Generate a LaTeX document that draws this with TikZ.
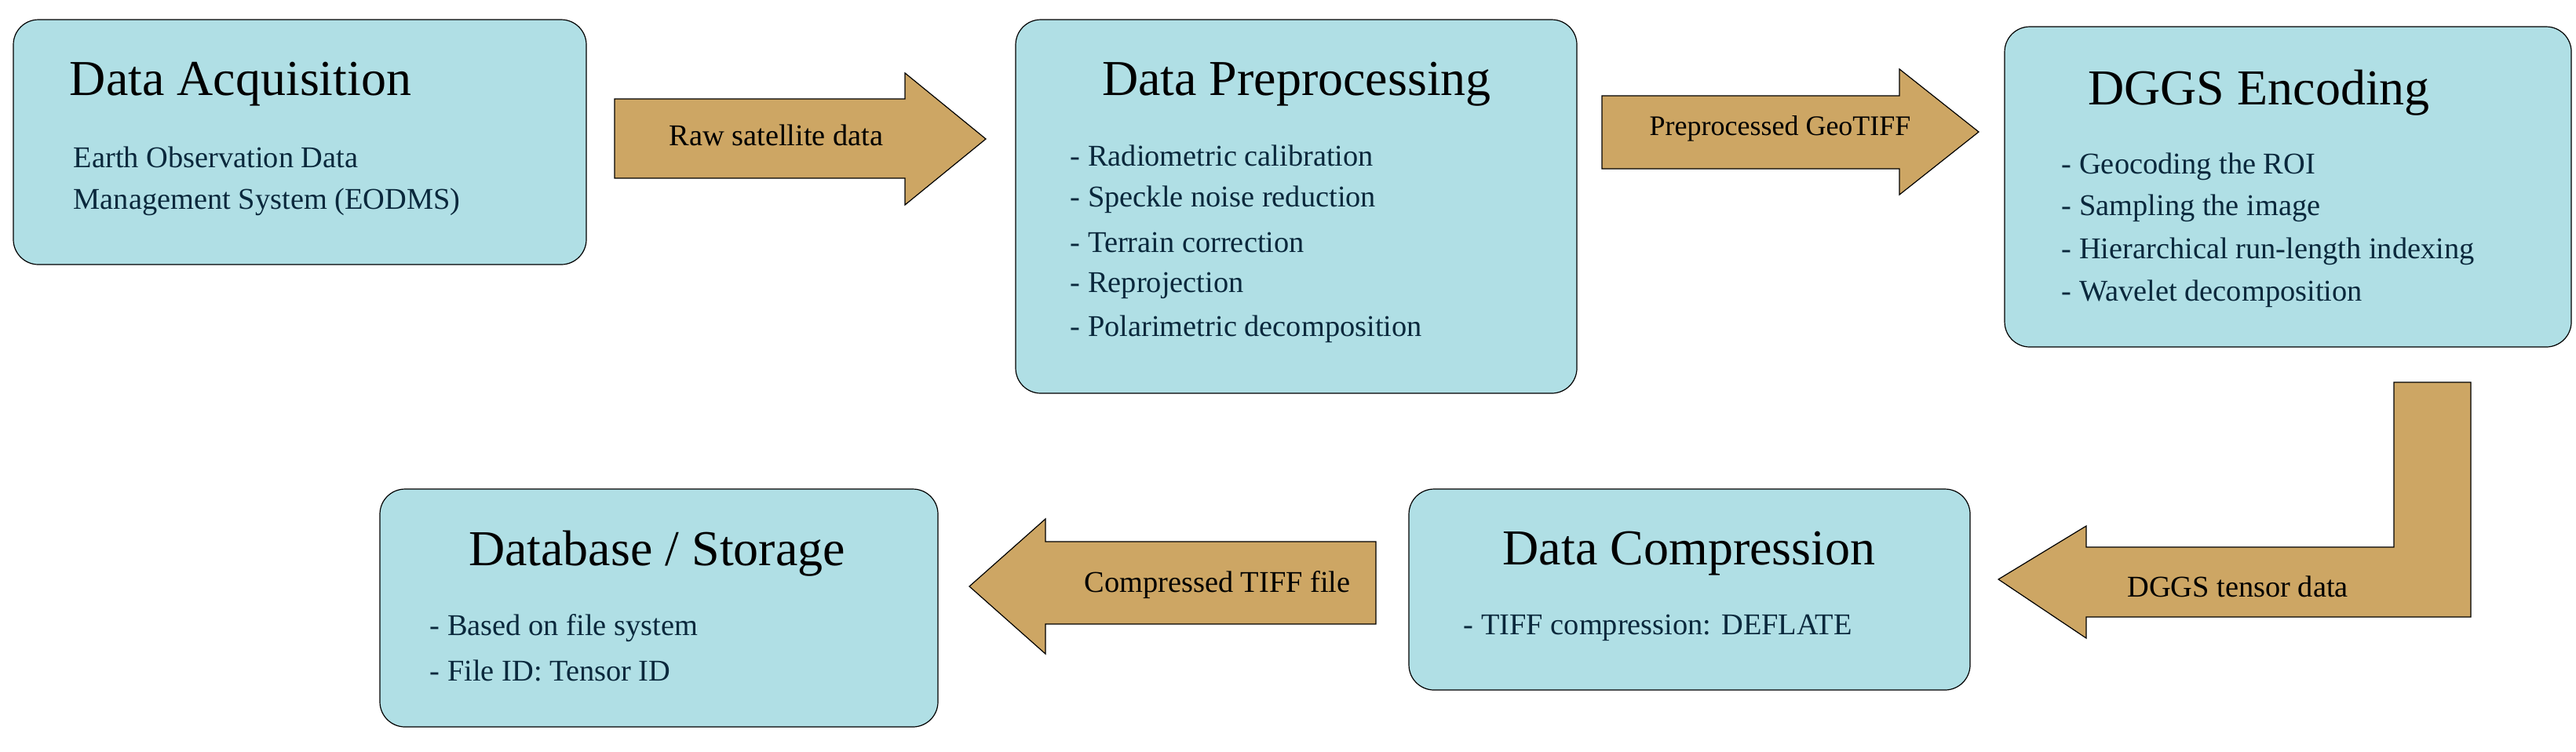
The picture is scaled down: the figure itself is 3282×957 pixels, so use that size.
\documentclass[tikz,border=0pt]{standalone}
\usepackage{fontspec}
\setmainfont{Liberation Serif}
\usetikzlibrary{fit}
\begin{document}
\begin{tikzpicture}[x=0.25pt,y=-0.25pt,
  box/.style={draw=black,line width=0.3pt,fill={rgb,255:red,176;green,223;blue,229},rounded corners=8pt,inner sep=0pt},
  arr/.style={draw=black,line width=0.3pt,fill={rgb,255:red,205;green,166;blue,100}},
  title/.style={font=\fontsize{16}{19}\selectfont,inner sep=0pt},
  item/.style={font=\fontsize{9.6}{12}\selectfont,text={rgb,255:red,10;green,40;blue,60},anchor=west,inner sep=0pt},
  alab/.style={font=\fontsize{9.6}{12}\selectfont,inner sep=0pt}]
\useasboundingbox (0,0) rectangle (3282,957);
% boxes
\node[box,fit={(17,25)(747,337)}] (b1) {};
\node[box,fit={(1294,25)(2009,501)}] (b2) {};
\node[box,fit={(2554,34)(3276,442)}] (b3) {};
\node[box,fit={(1795,623)(2510,879)}] (b4) {};
\node[box,fit={(484,623)(1195,926)}] (b5) {};
% arrows
\draw[arr] (783,126) -- (1153,126) -- (1153,93) -- (1256,177) -- (1153,261) -- (1153,227) -- (783,227) -- cycle;
\draw[arr] (2041,122) -- (2420,122) -- (2420,88) -- (2521,168) -- (2420,248) -- (2420,215) -- (2041,215) -- cycle;
\draw[arr] (3050,487) -- (3148,487) -- (3148,786) -- (2658,786) -- (2658,813) -- (2546,738) -- (2658,670) -- (2658,697) -- (3050,697) -- cycle;
\draw[arr] (1753,690) -- (1332,690) -- (1332,661) -- (1235,747) -- (1332,833) -- (1332,795) -- (1753,795) -- cycle;
% labels
\node[alab] (l1) at (989,172) {Raw satellite data};
\node[alab,font=\fontsize{9}{11}\selectfont] (l2) at (2268,164) {Preprocessed GeoTIFF};
\node[alab] (l3) at (2851,747) {DGGS tensor data};
\node[alab] (l4) at (1551,745) {Compressed TIFF file};
% box 1
\node[title,anchor=west] (t1) at (88,107) {Data Acquisition};
\node[item] (i11) at (93,200) {Earth Observation Data};
\node[item] (i12) at (93,257) {Management System (EODMS)};
% box 2
\node[title] (t2) at (1652,107) {Data Preprocessing};
\node[item] (i21) at (1363,198) {- Radiometric calibration};
\node[item] (i22) at (1363,254) {- Speckle noise reduction};
\node[item] (i23) at (1363,309) {- Terrain correction};
\node[item] (i24) at (1363,364) {- Reprojection};
\node[item] (i25) at (1363,419) {- Polarimetric decomposition};
% box 3
\node[title] (t3) at (2878,118) {DGGS Encoding};
\node[item] (i31) at (2626,212) {- Geocoding the ROI};
\node[item] (i32) at (2626,265) {- Sampling the image};
\node[item] (i33) at (2626,320) {- Hierarchical run-length indexing};
\node[item] (i34) at (2626,374) {- Wavelet decomposition};
% box 4
\node[title] (t4) at (2152,705) {Data Compression};
\node[item] (i41) at (1864,800) {- TIFF compression: DEFLATE};
% box 5
\node[title] (t5) at (837,705) {Database / Storage};
\node[item] (i51) at (547,800) {- Based on file system};
\node[item] (i52) at (547,854) {- File ID: Tensor ID};
\end{tikzpicture}
\end{document}
